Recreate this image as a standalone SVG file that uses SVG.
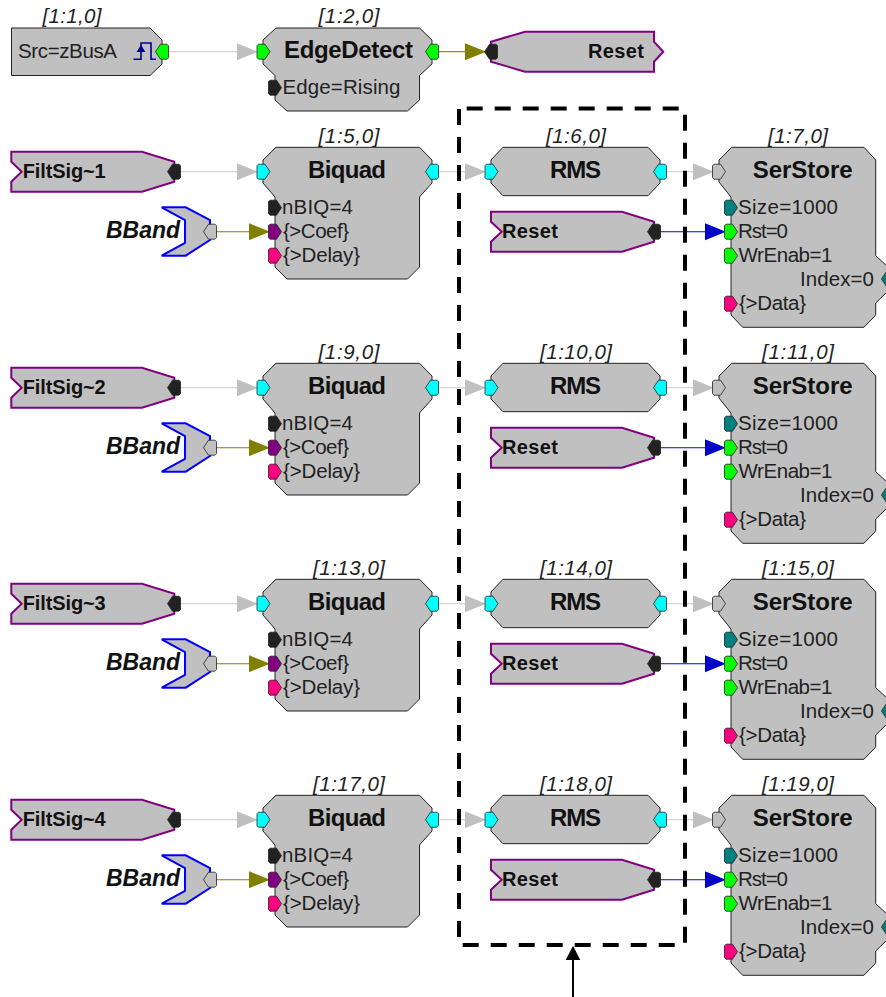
<svg xmlns="http://www.w3.org/2000/svg" width="886" height="997" viewBox="0 0 886 997">
<style>
text{font-family:"Liberation Sans",Arial,sans-serif;fill:#111}
.lb{font-size:20.5px;font-style:italic;text-anchor:middle;fill:#222}
.p{font-size:20.5px;fill:#222}
.t{font-size:24px;font-weight:bold;text-anchor:middle}
.h{font-size:20px;font-weight:bold}
.bb{font-size:23px;font-weight:bold;font-style:italic;text-anchor:end}
.body{fill:#c0c0c0;stroke:#222;stroke-width:1}
.purple{fill:#c0c0c0;stroke:#800080;stroke-width:2}
.blue{fill:#c0c0c0;stroke:#0000ff;stroke-width:2}
.port{stroke:#222;stroke-width:.8}
.g{fill:#00ff00}.c{fill:#00ffff}.d{fill:#222}.m{fill:#800080}.k{fill:#ff0080}.e{fill:#008080}.s{fill:#c0c0c0}
.cg{stroke:#c8c8c8;stroke-width:1.1;fill:none}
.co{stroke:#808000;stroke-width:1.1;fill:none}
.cb{stroke:#0000e0;stroke-width:1.1;fill:none}
.dash{stroke:#000;stroke-width:4;stroke-dasharray:16 12;fill:none}
</style>
<defs>
<polygon id="pr" points="-6.5,-6 -5,-7.5 1.5,-7.5 6.5,0 1.5,7.5 -5,7.5 -6.5,6"/>
<polygon id="pl" points="-6.5,0 -1.5,-7.5 5,-7.5 6.5,-6 6.5,6 5,7.5 -1.5,7.5"/>
<polygon id="ag" points="0,-8.5 21,0 0,8.5" fill="#c0c0c0"/>
<polygon id="ao" points="0,-8.5 21,0 0,8.5" fill="#808000"/>
<polygon id="ab" points="0,-8.5 21,0 0,8.5" fill="#0000c8"/>
<polygon id="biq" points="276,147.3 419.5,147.3 432,160 432,183 419.5,197 419.5,267 407.5,279 287,279 275,267 275,197 263,183 263,160"/>
<polygon id="rms" points="503,147.3 648,147.3 660,160 660,183 648,195.7 503,195.7 491,183 491,160"/>
<polygon id="ser" points="731.7,147.3 864,147.3 875.7,160 875.7,255.7 888,267 888,291 875.7,303 875.7,315 864,327.3 742.7,327.3 731,315 731,197 719,182 719,160"/>
<polygon id="rst" points="491,211.7 622,211.7 654,221.7 654,241.7 622,251.7 491,251.7 491,241.7 501.7,231.7 491,221.7"/>
<polygon id="flt" points="11.3,151.7 142,151.7 174.3,161.7 174.3,181.7 142,191.7 11.3,191.7 11.3,181.7 21.7,171.7 11.3,161.7"/>
<polygon id="bbd" points="161.7,207.3 185.7,207.3 210,220 210,240 185.7,255.7 161.7,255.7 185,243 185,220"/>
<g id="conn">
<path class="cg" d="M180 171.7H240M438 171.7H468M666 171.7H696"/>
<use href="#ag" x="237" y="171.7"/><use href="#ag" x="465" y="171.7"/><use href="#ag" x="693" y="171.7"/>
<path class="co" d="M216 231.7H252"/><use href="#ao" x="249" y="231.7"/>
<path class="cb" d="M660 231.7H708"/><use href="#ab" x="705" y="231.7"/>
</g>
<g id="biqN">
<use href="#biq" class="body"/>
<use href="#pr" x="263.5" y="171.7" class="port c"/><use href="#pl" x="432" y="171.7" class="port c"/>
<use href="#pr" x="275" y="207.7" class="port d"/><use href="#pr" x="275" y="231.7" class="port m"/><use href="#pr" x="275" y="255.7" class="port k"/>
<text class="t" x="347" y="178" textLength="78">Biquad</text>
<text class="p" x="282" y="214" textLength="71">nBIQ=4</text>
<text class="p" x="283" y="238" textLength="66">{&gt;Coef}</text>
<text class="p" x="283" y="262" textLength="77">{&gt;Delay}</text>
</g>
<g id="rmsN">
<use href="#rms" class="body"/>
<use href="#pr" x="491.5" y="171.7" class="port c"/><use href="#pl" x="660" y="171.7" class="port c"/>
<text class="t" x="575.5" y="178" textLength="51">RMS</text>
</g>
<g id="rstN">
<use href="#rst" class="purple"/><use href="#pl" x="654" y="231.7" class="port d"/>
<text class="h" x="502" y="238" textLength="56">Reset</text>
</g>
<g id="serN">
<use href="#ser" class="body"/>
<use href="#pr" x="719" y="171.7" class="port s"/>
<use href="#pr" x="731" y="207.7" class="port e"/><use href="#pr" x="731" y="231.7" class="port g"/><use href="#pr" x="731" y="255.7" class="port g"/><use href="#pr" x="731" y="303.7" class="port k"/>
<use href="#pl" x="888" y="279" class="port e"/>
<text class="t" x="802.7" y="178" textLength="100">SerStore</text>
<text class="p" x="738" y="214" textLength="100">Size=1000</text>
<text class="p" x="738" y="238" textLength="50">Rst=0</text>
<text class="p" x="738.5" y="262" textLength="94">WrEnab=1</text>
<text class="p" x="800" y="286" textLength="74">Index=0</text>
<text class="p" x="739" y="310" textLength="67">{&gt;Data}</text>
</g>
<g id="fltN">
<use href="#flt" class="purple"/><use href="#pl" x="174" y="171.7" class="port d"/>
</g>
<g id="bbdN">
<use href="#bbd" class="blue"/><use href="#pl" x="210" y="231.7" class="port s"/>
<text class="bb" x="180" y="238" textLength="74">BBand</text>
</g>
</defs>

<g id="connectors">
<path class="cg" d="M168 51.7H240"/><use href="#ag" x="237" y="51.7"/>
<path class="co" d="M438 51.7H468"/><use href="#ao" x="465" y="51.7"/>
<use href="#conn"/>
<use href="#conn" y="216"/>
<use href="#conn" y="432"/>
<use href="#conn" y="648"/>
<path d="M573 997V958" stroke="#000" stroke-width="2" fill="none"/>
<polygon points="573,945.7 565.7,960 580.3,960" fill="#000"/>
</g>

<g id="n1-1">
<polygon class="body" points="11.5,28 150,28 162,40 162,64 150,75.5 11.5,75.5"/>
<path d="M133.5 59.3H141V43H151V59.3H156" fill="none" stroke="#000090" stroke-width="1.6"/>
<polygon points="141,45 136.5,52 145.5,52" fill="#000090"/>
<use href="#pl" x="162" y="51.7" class="port g"/>
<text class="lb" x="72" y="22.5" textLength="59">[1:1,0]</text>
<text class="p" x="18" y="58" textLength="99">Src=zBusA</text>
</g>
<g id="n1-2">
<polygon class="body" points="276,28 419.5,28 432,40 432,64 419.5,75.5 419.5,100 407.5,111 287,111 275,100 275,75.5 263,64 263,40"/>
<use href="#pr" x="263.5" y="51.7" class="port g"/><use href="#pl" x="432" y="51.7" class="port g"/>
<use href="#pr" x="275" y="87.7" class="port d"/>
<text class="lb" x="349" y="22.5" textLength="61">[1:2,0]</text>
<text class="t" x="348.5" y="58" textLength="129">EdgeDetect</text>
<text class="p" x="282.5" y="94" textLength="118">Edge=Rising</text>
</g>
<g id="n-reset-top">
<polygon class="purple" points="491,41.7 525,31.7 654,31.7 654,41.7 663.3,51.7 654,61.7 654,71.7 525,71.7 491,61.7"/>
<use href="#pl" x="491" y="51.7" class="port d"/>
<text class="h" x="588" y="58" textLength="56">Reset</text>
</g>

<g id="n-filt1"><use href="#fltN"/><text class="h" x="22.7" y="178" textLength="83">FiltSig~1</text></g>
<g id="n-bband1"><use href="#bbdN"/></g>
<g id="n1-5"><use href="#biqN"/><text class="lb" x="349" y="143" textLength="61">[1:5,0]</text></g>
<g id="n1-6"><use href="#rmsN"/><text class="lb" x="576" y="143" textLength="60">[1:6,0]</text></g>
<g id="n-reset1"><use href="#rstN"/></g>
<g id="n1-7"><use href="#serN"/><text class="lb" x="798" y="143" textLength="60">[1:7,0]</text></g>

<g id="n-filt2"><use href="#fltN" y="216"/><text class="h" x="22.7" y="394" textLength="83">FiltSig~2</text></g>
<g id="n-bband2"><use href="#bbdN" y="216"/></g>
<g id="n1-9"><use href="#biqN" y="216"/><text class="lb" x="349" y="359" textLength="61">[1:9,0]</text></g>
<g id="n1-10"><use href="#rmsN" y="216"/><text class="lb" x="576" y="359" textLength="72">[1:10,0]</text></g>
<g id="n-reset2"><use href="#rstN" y="216"/></g>
<g id="n1-11"><use href="#serN" y="216"/><text class="lb" x="798" y="359" textLength="72">[1:11,0]</text></g>

<g id="n-filt3"><use href="#fltN" y="432"/><text class="h" x="22.7" y="610" textLength="83">FiltSig~3</text></g>
<g id="n-bband3"><use href="#bbdN" y="432"/></g>
<g id="n1-13"><use href="#biqN" y="432"/><text class="lb" x="349" y="575" textLength="72">[1:13,0]</text></g>
<g id="n1-14"><use href="#rmsN" y="432"/><text class="lb" x="576" y="575" textLength="72">[1:14,0]</text></g>
<g id="n-reset3"><use href="#rstN" y="432"/></g>
<g id="n1-15"><use href="#serN" y="432"/><text class="lb" x="798" y="575" textLength="72">[1:15,0]</text></g>

<g id="n-filt4"><use href="#fltN" y="648"/><text class="h" x="22.7" y="826" textLength="83">FiltSig~4</text></g>
<g id="n-bband4"><use href="#bbdN" y="648"/></g>
<g id="n1-17"><use href="#biqN" y="648"/><text class="lb" x="349" y="791" textLength="72">[1:17,0]</text></g>
<g id="n1-18"><use href="#rmsN" y="648"/><text class="lb" x="576" y="791" textLength="72">[1:18,0]</text></g>
<g id="n-reset4"><use href="#rstN" y="648"/></g>
<g id="n1-19"><use href="#serN" y="648"/><text class="lb" x="798" y="791" textLength="72">[1:19,0]</text></g>

<g id="dashed-frame">
<path class="dash" d="M459 109V940"/>
<path class="dash" d="M466.7 108.5H680"/>
<path class="dash" d="M685 114.7V945"/>
<path class="dash" d="M462.7 945H680"/>
</g>
</svg>
